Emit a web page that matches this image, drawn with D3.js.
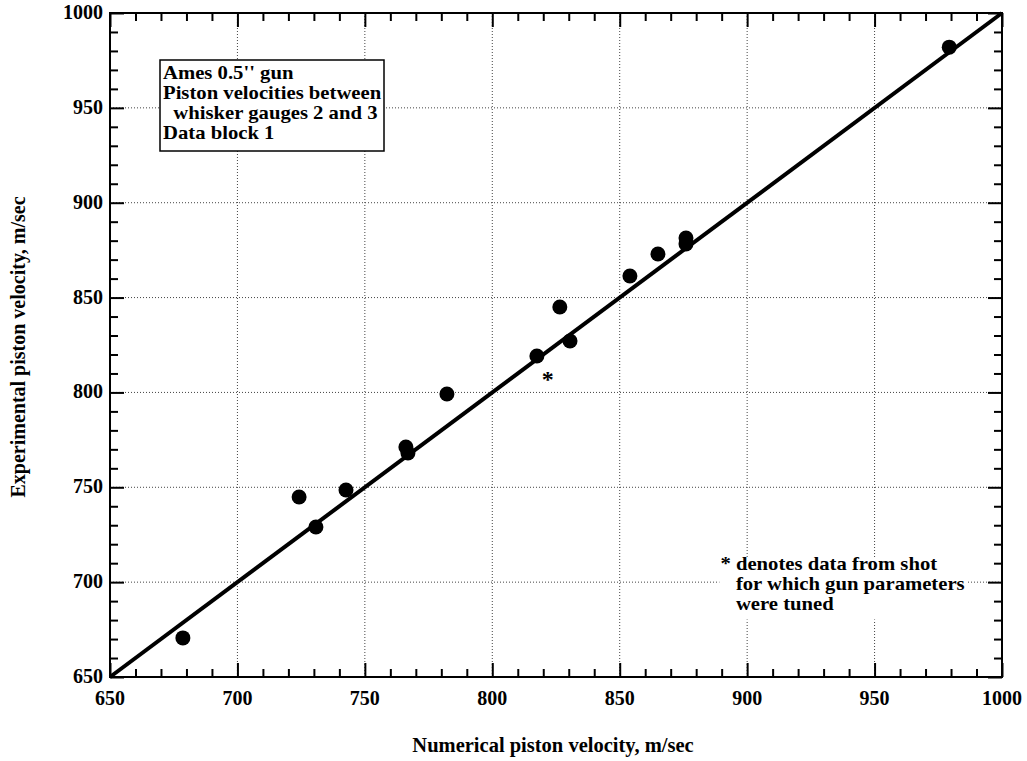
<!DOCTYPE html>
<html>
<head>
<meta charset="utf-8">
<script src="https://cdn.jsdelivr.net/npm/d3@7"></script>
<style>
  body { margin: 0; background: #fff; }
  text { font-family: "Liberation Serif", "Times New Roman", serif; font-weight: bold; fill: #000; }
</style>
</head>
<body>
<div id="chart"></div>
<script>
// measured data (numerical vs experimental piston velocity, m/sec)
const numerical = [678.6, 724.2, 730.8, 742.6, 766.1, 766.9, 782.2, 817.5, 826.5, 830.5, 854.0, 865.0, 876.0, 876.0, 979.3];
const experimental = [670.6, 744.9, 729.1, 748.6, 771.2, 768.1, 799.2, 819.2, 845.0, 827.1, 861.4, 873.0, 881.4, 878.3, 982.0];
// the tuned shot, drawn as an asterisk
const tunedShot = [821.8, 809.2];
const tickValues = [650, 700, 750, 800, 850, 900, 950, 1000];
const minorTickValues = d3.range(650, 1001, 10);
const boxLines = ["Ames 0.5'' gun", "Piston velocities between", "  whisker gauges 2 and 3", "Data block 1"];
const noteLines = ["* denotes data from shot", "   for which gun parameters", "   were tuned"];

// set the dimensions and margins of the graph
const margin = {top: 13, right: 25, bottom: 84, left: 110},
    width = 1027 - margin.left - margin.right,
    height = 761 - margin.top - margin.bottom;

const x = d3.scaleLinear().domain([650, 1000]).range([0, width]);
const y = d3.scaleLinear().domain([650, 1000]).range([height, 0]);

const svg = d3.select("#chart").append("svg")
    .attr("width", 1027)
    .attr("height", 761)
    .append("g")
    .attr("transform", "translate(" + margin.left + "," + margin.top + ")");

// dotted grid
svg.append("g").selectAll("line")
    .data(tickValues.slice(1, -1))
    .enter().append("line")
    .attr("x1", d => x(d)).attr("x2", d => x(d))
    .attr("y1", 0).attr("y2", height)
    .attr("stroke", "#444").attr("stroke-width", 1).attr("stroke-dasharray", "1,2");
svg.append("g").selectAll("line")
    .data(tickValues.slice(1, -1))
    .enter().append("line")
    .attr("y1", d => y(d)).attr("y2", d => y(d))
    .attr("x1", 0).attr("x2", width)
    .attr("stroke", "#444").attr("stroke-width", 1).attr("stroke-dasharray", "1,2");

// white backing behind the note text and the asterisk
svg.append("rect")
    .attr("x", x(889.5) - 1).attr("y", y(713))
    .attr("width", 248).attr("height", 62)
    .attr("fill", "#fff");
svg.append("rect")
    .attr("x", x(tunedShot[0]) - 8).attr("y", y(tunedShot[1]) - 6)
    .attr("width", 14).attr("height", 18)
    .attr("fill", "#fff");

// axes with inward ticks on all four sides
const mkAxis = (axisFn, scale, vals, size) => axisFn(scale).tickValues(vals).tickSize(size).tickFormat("");
const minorVals = minorTickValues.filter(v => v % 50 !== 0);

const axes = [
  {fn: d3.axisBottom, s: x, t: "translate(0," + height + ")"},
  {fn: d3.axisTop, s: x, t: "translate(0,0)"},
  {fn: d3.axisLeft, s: y, t: "translate(0,0)"},
  {fn: d3.axisRight, s: y, t: "translate(" + width + ",0)"}
];
axes.forEach(a => {
  const gMaj = svg.append("g").attr("transform", a.t).call(mkAxis(a.fn, a.s, tickValues, -14));
  const gMin = svg.append("g").attr("transform", a.t).call(mkAxis(a.fn, a.s, minorVals, -8));
  [gMaj, gMin].forEach(g => {
    g.select(".domain").remove();
    g.selectAll("line").attr("stroke", "#000").attr("stroke-width", 2);
  });
});

// frame
svg.append("rect")
    .attr("width", width).attr("height", height)
    .attr("fill", "none").attr("stroke", "#000").attr("stroke-width", 2);

// tick labels
svg.append("g").selectAll("text")
    .data(tickValues)
    .enter().append("text")
    .attr("x", d => x(d)).attr("y", height + 28)
    .attr("text-anchor", "middle")
    .style("font-size", "20px")
    .text(d => d);
svg.append("g").selectAll("text")
    .data(tickValues)
    .enter().append("text")
    .attr("x", -7).attr("y", d => y(d) + 6)
    .attr("text-anchor", "end")
    .style("font-size", "20px")
    .text(d => d);

// axis titles
svg.append("text")
    .attr("x", width / 2 - 3).attr("y", height + 75)
    .attr("text-anchor", "middle")
    .style("font-size", "20.5px")
    .text("Numerical piston velocity, m/sec");
svg.append("text")
    .attr("transform", "translate(" + (-85) + "," + (y(825) + 2) + ") rotate(-90)")
    .attr("text-anchor", "middle")
    .style("font-size", "20px")
    .text("Experimental piston velocity, m/sec");

// y = x line
svg.append("line")
    .attr("x1", x(650)).attr("y1", y(650))
    .attr("x2", x(1000)).attr("y2", y(1000))
    .attr("stroke", "#000").attr("stroke-width", 4);

// data points
svg.append("g").selectAll("circle")
    .data(numerical.map((v, i) => [v, experimental[i]]))
    .enter().append("circle")
    .attr("cx", d => x(d[0]))
    .attr("cy", d => y(d[1]))
    .attr("r", 7.5)
    .attr("fill", "#000");

// tuned shot marker
svg.append("text")
    .attr("x", x(tunedShot[0])).attr("y", y(tunedShot[1]) + 12)
    .attr("text-anchor", "middle")
    .style("font-size", "24px")
    .text("*");

// tightly leaded text block, slightly widened to match the original lettering
const addBlock = (g, lines, x0, y0, lh) => {
  g.selectAll("text.line")
      .data(lines)
      .enter().append("text")
      .attr("class", "line")
      .attr("transform", (d, i) => "translate(" + x0 + "," + (y0 + i * lh) + ") scale(1.15,1)")
      .style("white-space", "pre")
      .style("font-size", "18px")
      .text(d => d);
};

// info box
const boxG = svg.append("g");
boxG.append("rect")
    .attr("x", 50).attr("y", 47)
    .attr("width", 224).attr("height", 91)
    .attr("fill", "#fff").attr("stroke", "#000").attr("stroke-width", 1.5);
addBlock(boxG, boxLines, 53, 66, 20);

// note
addBlock(svg.append("g"), noteLines, x(889.5), y(713) + 13, 20);
</script>
</body>
</html>
